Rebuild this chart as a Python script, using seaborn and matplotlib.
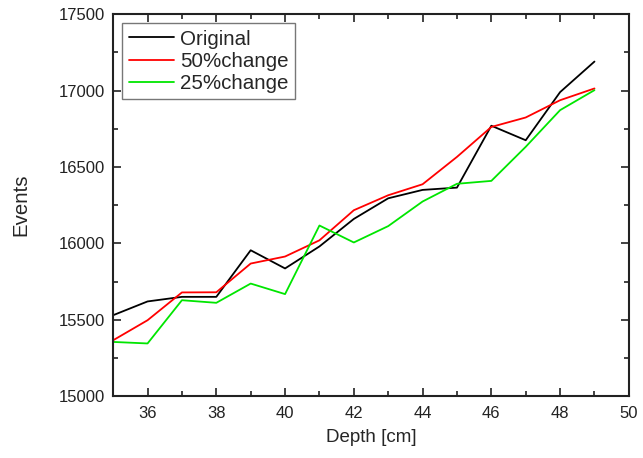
import numpy as np
import pandas as pd
import matplotlib
matplotlib.use("Agg")
import matplotlib.pyplot as plt
import seaborn as sns
from matplotlib.ticker import MultipleLocator

depth = list(range(35, 50))
original = [15530, 15620, 15650, 15650, 15955, 15836, 15980, 16160, 16295,
            16350, 16365, 16770, 16675, 16990, 17190]
change50 = [15366, 15497, 15679, 15680, 15868, 15914, 16020, 16217, 16315,
            16387, 16566, 16762, 16824, 16937, 17014]
change25 = [15355, 15345, 15628, 15611, 15737, 15668, 16117, 16006, 16113,
            16274, 16390, 16409, 16632, 16872, 17003]

series_names = ["Original", "50%change", "25%change"]
colors = ["#000000", "#ff0000", "#00e600"]

df = pd.DataFrame({
    "Depth": depth * 3,
    "Events": original + change50 + change25,
    "Series": [series_names[0]] * len(depth) + [series_names[1]] * len(depth)
              + [series_names[2]] * len(depth),
})

sns.set_style("ticks")
plt.rcParams["font.family"] = ["Liberation Sans", "DejaVu Sans"]

fig = plt.figure(figsize=(6.43, 4.58), dpi=100)
ax = fig.add_axes([0.176, 0.135, 0.802, 0.834])

sns.lineplot(data=df, x="Depth", y="Events", hue="Series",
             palette=dict(zip(series_names, colors)), linewidth=1.3, ax=ax)

ax.set_xlim(35, 50)
ax.set_ylim(15000, 17500)
ax.xaxis.set_major_locator(MultipleLocator(2))
ax.xaxis.set_minor_locator(MultipleLocator(1))
ax.yaxis.set_major_locator(MultipleLocator(500))
ax.yaxis.set_minor_locator(MultipleLocator(250))
ax.tick_params(which="both", direction="in", top=True, right=True,
               labelsize=12, width=1.2, colors="#222222")
ax.tick_params(which="major", length=6)
ax.tick_params(which="minor", length=3.5)
ax.tick_params(axis="x", pad=7)
ax.tick_params(axis="y", pad=6)
for s in ax.spines.values():
    s.set_linewidth(1.5)
    s.set_color("#222222")

ax.set_xlabel("Depth [cm]", fontsize=13.5, labelpad=6)
ax.set_ylabel("Events", fontsize=14.7, labelpad=20)

leg = ax.legend(loc="upper left", fontsize=14.8, frameon=True, fancybox=False,
                handlelength=2.2, borderpad=0.3, labelspacing=0.15,
                handletextpad=0.3, borderaxespad=0.45)
leg.get_frame().set_edgecolor("#555555")
leg.get_frame().set_linewidth(1.0)
leg.set_title(None)

fig.savefig("out.png", dpi=100)
